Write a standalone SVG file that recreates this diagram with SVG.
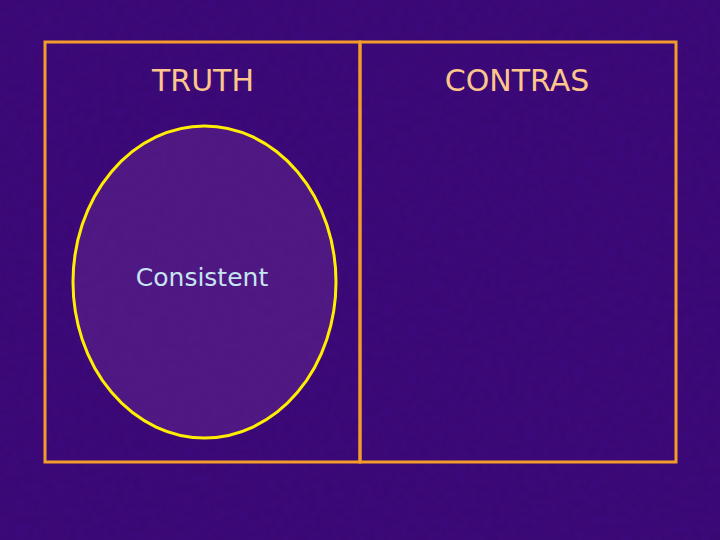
<svg xmlns="http://www.w3.org/2000/svg" width="720" height="540" viewBox="0 0 720 540">
<defs>
<filter id="tex" x="0" y="0" width="100%" height="100%" color-interpolation-filters="sRGB">
<feTurbulence type="fractalNoise" baseFrequency="0.12" numOctaves="3" seed="3" result="n"/>
<feColorMatrix in="n" type="matrix" values="0 0 0 0 0.22  0 0 0 0 0.02  0 0 0 0 0.42  0 0 0 0.6 0" result="c"/>
<feComposite in="c" in2="SourceGraphic" operator="atop"/>
</filter>
<style>
.frame{fill:none;stroke:#f39c2a;stroke-width:3}
.title{font-family:"DejaVu Sans","Liberation Sans",sans-serif;font-size:30px;fill:#fcc68c;text-anchor:middle}
.label{font-family:"DejaVu Sans","Liberation Sans",sans-serif;font-size:25px;fill:#c6e4f2;text-anchor:middle}
</style>
</defs>
<rect width="720" height="540" fill="#3c0a7c"/>
<rect width="720" height="540" fill="#3c0a7c" filter="url(#tex)"/>
<g id="truth-panel">
<rect class="frame" x="45" y="42" width="315" height="420"/>
<text class="title" x="203" y="91">TRUTH</text>
</g>
<g id="contras-panel">
<rect class="frame" x="360" y="42" width="316" height="420"/>
<text class="title" x="517" y="91">CONTRAS</text>
</g>
<g id="consistent">
<ellipse cx="204.5" cy="282" rx="131.5" ry="156" fill="#5a2088" fill-opacity="0.65" stroke="#ffee00" stroke-width="3"/>
<text class="label" x="202" y="286">Consistent</text>
</g>
<g id="connectors"/>
</svg>
